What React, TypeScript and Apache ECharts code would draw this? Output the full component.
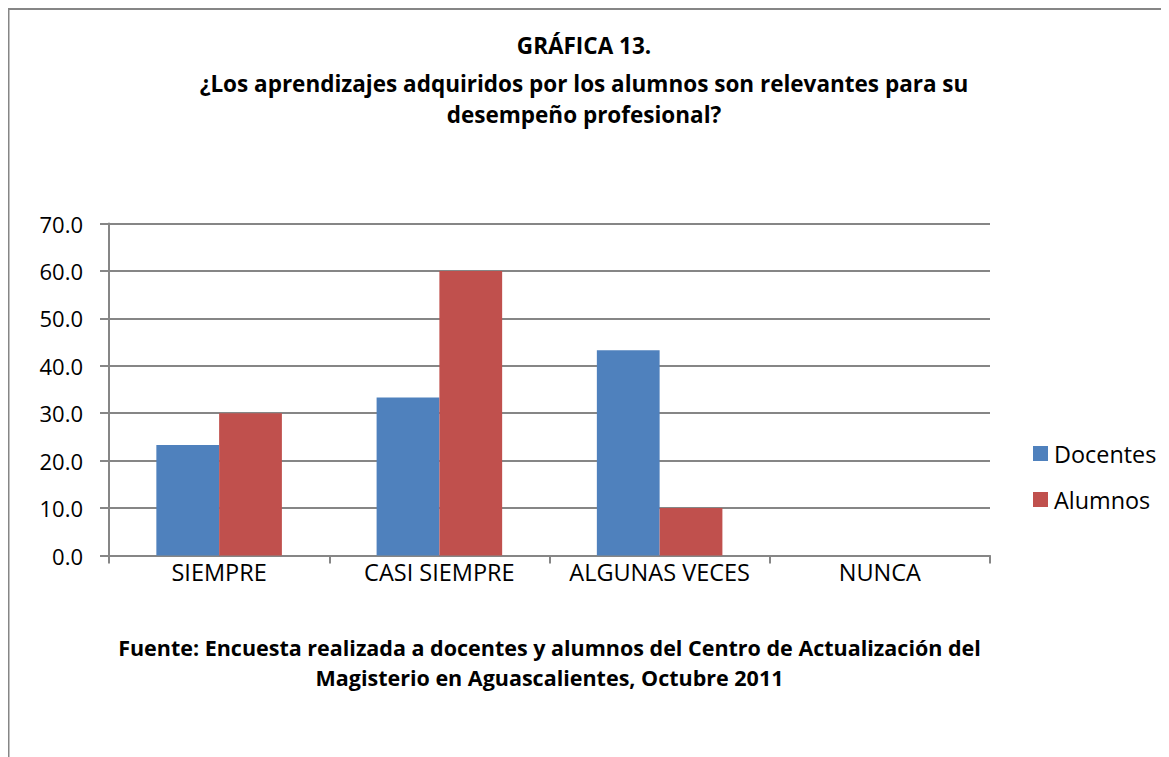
import React, { useEffect, useRef } from "react";
import * as echarts from "echarts";

const categories = ["SIEMPRE", "CASI SIEMPRE", "ALGUNAS VECES", "NUNCA"];
const seriesNames = ["Docentes", "Alumnos"];
const docentes = [23.3, 33.3, 43.3, 0];
const alumnos = [30.0, 60.0, 10.0, 0];
const yMin = 0;
const yMax = 70;
const yInterval = 10;
const titleLines = [
  "GRÁFICA 13.",
  "¿Los aprendizajes adquiridos por los alumnos son relevantes para su",
  "desempeño profesional?",
];
const footerLines = [
  "Fuente: Encuesta realizada a docentes y alumnos del Centro de Actualización del",
  "Magisterio en Aguascalientes, Octubre 2011",
];

const FONT = "'Open Sans', Lato, sans-serif";
const GRID = "#868686";

export default function App() {
  const ref = useRef<HTMLDivElement>(null);
  useEffect(() => {
    if (!ref.current) return;
    const chart = echarts.init(ref.current, undefined, { renderer: "svg" });
    const titleY = [37, 75, 106];
    const footerY = [639, 669.5];
    const plotLeft = 101;
    const plotWidth = 881;
    const option: any = {
      animation: false,
      textStyle: { fontFamily: FONT },
      grid: { left: plotLeft, top: 215.5, width: plotWidth, height: 332, containLabel: false },
      legend: {
        orient: "vertical",
        left: 1020,
        top: 429,
        itemWidth: 15,
        itemHeight: 15,
        itemGap: 23,
        icon: "rect",
        textStyle: { fontSize: 23.4, color: "#000", fontFamily: FONT, padding: [0, 0, 0, 1] },
        data: seriesNames,
      },
      xAxis: {
        type: "category",
        data: categories,
        axisLine: { lineStyle: { color: GRID, width: 2 } },
        axisTick: { show: true, length: 8, lineStyle: { color: GRID, width: 2 } },
        axisLabel: {
          color: "#000",
          fontSize: 23.5,
          margin: 4,
          fontFamily: FONT,
          interval: 0,
          hideOverlap: false,
        },
      },
      yAxis: {
        type: "value",
        min: yMin,
        max: yMax,
        interval: yInterval,
        axisLine: { show: true, lineStyle: { color: GRID, width: 2 } },
        axisTick: { show: true, length: 9, lineStyle: { color: GRID, width: 2 } },
        axisLabel: {
          color: "#000",
          fontSize: 22,
          margin: 26,
          fontFamily: FONT,
          formatter: (v: number) => v.toFixed(1),
        },
        splitLine: { show: true, lineStyle: { color: GRID, width: 2 } },
      },
      series: [
        {
          name: seriesNames[0],
          type: "bar",
          data: docentes,
          barGap: "0%",
          barCategoryGap: "43%",
          itemStyle: { color: "#4F81BD" },
        },
        {
          name: seriesNames[1],
          type: "bar",
          data: alumnos,
          barGap: "0%",
          barCategoryGap: "43%",
          itemStyle: { color: "#C0504D" },
        },
      ],
      graphic: [
        { type: "line", shape: { x1: 0, y1: 1, x2: 2000, y2: 1 }, style: { stroke: GRID, lineWidth: 2 } },
        { type: "line", shape: { x1: 0.5, y1: 0, x2: 0.5, y2: 2000 }, style: { stroke: GRID, lineWidth: 2 } },
        ...titleLines.map((t, i) => ({
          type: "text",
          x: 576,
          y: titleY[i],
          style: {
            text: t,
            fontSize: 22.5,
            fontWeight: "bold",
            fontFamily: FONT,
            fill: "#000",
            align: "center",
            verticalAlign: "middle",
          },
        })),
        ...footerLines.map((t, i) => ({
          type: "text",
          x: plotLeft + plotWidth / 2,
          y: footerY[i],
          style: {
            text: t,
            fontSize: 21.5,
            fontWeight: "bold",
            fontFamily: FONT,
            fill: "#000",
            align: "center",
            verticalAlign: "middle",
          },
        })),
      ],
    };
    chart.setOption(option);
    return () => chart.dispose();
  }, []);
  return <div ref={ref} style={{ width: 1161, height: 749 }} />;
}
